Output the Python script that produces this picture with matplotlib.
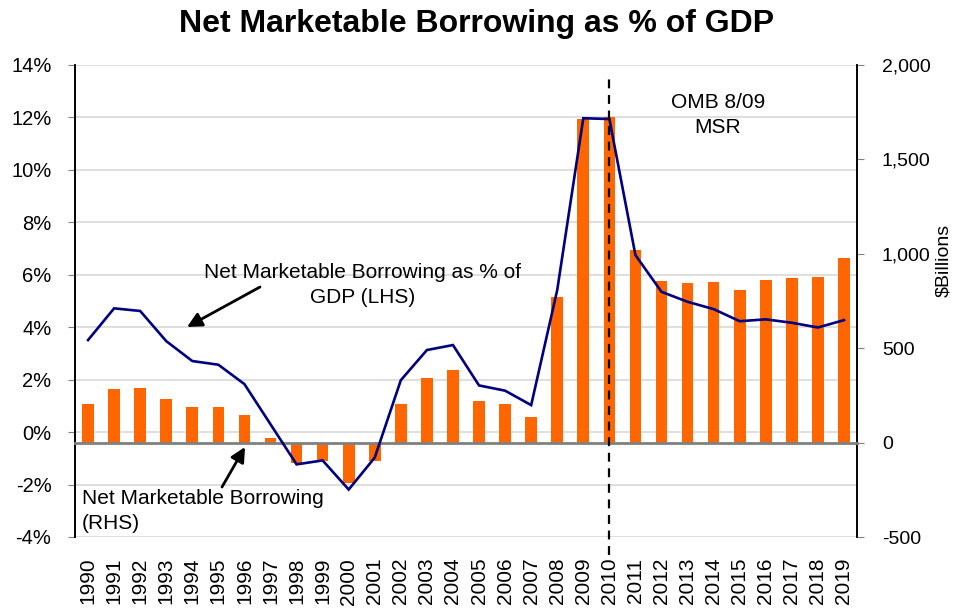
import matplotlib
matplotlib.use("Agg")
import matplotlib.pyplot as plt
import matplotlib.transforms as mtrans
from matplotlib.patches import FancyArrowPatch
from matplotlib.ticker import FuncFormatter, FixedLocator
import numpy as np

plt.rcParams["font.family"] = ["Liberation Sans", "DejaVu Sans"]

# Net marketable borrowing, $ billions (right axis)
years = list(range(1990, 2020))
borrowing_bn = [205, 282, 291, 231, 190, 190, 145, 23, -110, -97,
                -212, -97, 206, 340, 385, 219, 206, 137, 773, 1716,
                1726, 1020, 858, 844, 849, 807, 861, 874, 877, 978]
# Net marketable borrowing as % of GDP (left axis)
borrowing_pct_gdp = [3.51, 4.72, 4.62, 3.47, 2.71, 2.57, 1.83, 0.30, -1.23, -1.08,
                     -2.19, -0.97, 1.98, 3.13, 3.32, 1.78, 1.58, 1.03, 5.42, 11.97,
                     11.94, 6.75, 5.35, 4.97, 4.69, 4.23, 4.30, 4.17, 3.99, 4.27]
forecast_start = 2010

W, H = 954, 608
fig = plt.figure(figsize=(W / 100, H / 100), dpi=100)

def fx(px):
    return px / W

def fy(py):
    return 1 - py / H

ax = fig.add_axes([fx(75), fy(537), fx(857) - fx(75), fy(65) - fy(537)])
ax2 = ax.twinx()

x = np.arange(len(years))
ax.set_xlim(-0.5, len(years) - 0.5)
ax.set_ylim(-4, 14)
ax2.set_ylim(-500, 2000)

# left axis: percent scale with gridlines
ax.set_yticks(np.arange(-4, 15, 2))
ax.yaxis.set_major_formatter(FuncFormatter(lambda v, p: f"{v:.0f}%"))
ax.grid(axis="y", color="#D9D9D9", lw=1.2)
ax.set_axisbelow(True)
ax.tick_params(axis="y", direction="out", length=5, color="#808080",
               labelsize=14.5, pad=12)

# right axis: billions
ax2.set_yticks(np.arange(-500, 2001, 500))
ax2.yaxis.set_major_formatter(FuncFormatter(lambda v, p: f"{v:,.0f}"))
ax2.tick_params(axis="y", direction="out", length=5, color="#808080",
                labelsize=14, pad=13)

for a in (ax, ax2):
    a.spines["top"].set_visible(False)
    a.spines["left"].set_color("black")
    a.spines["right"].set_color("black")
    a.spines["left"].set_linewidth(1.2)
    a.spines["right"].set_linewidth(1.2)

# category axis: labels at centres, tick marks at boundaries on the zero line
ax.xaxis.set_major_locator(FixedLocator(x))
ax.set_xticklabels([str(y) for y in years], rotation=90)
ax.xaxis.set_minor_locator(FixedLocator(np.arange(-0.5, len(years), 1.0)))
ax.spines["bottom"].set_visible(False)
ax.tick_params(axis="x", which="major", length=0, labelsize=15, pad=15)
ax.tick_params(axis="x", which="minor", length=0)

ax2.spines["bottom"].set_position(("data", 0))
ax2.spines["bottom"].set_color("#808080")
ax2.spines["bottom"].set_linewidth(2)
ax2.tick_params(axis="x", which="major", length=0, labelbottom=False)
ax2.tick_params(axis="x", which="minor", direction="out", length=5,
                width=1.5, color="#808080", labelbottom=False)

# bars and line
ax2.bar(x, borrowing_bn, width=0.45, color="#FF6600", zorder=2)
ax2.plot(x, borrowing_pct_gdp, color="#000080", lw=1.9, zorder=3,
         transform=ax.transData, solid_joinstyle="miter")

# forecast divider
xi = years.index(forecast_start)
trans = mtrans.blended_transform_factory(ax2.transData, ax2.transAxes)
ax2.plot([xi, xi], [-0.038, 0.972], transform=trans, color="black", lw=1.6,
         ls=(0, (4, 3)), clip_on=False, zorder=4)

ax2.set_ylabel("$Billions", fontsize=14)
ax2.yaxis.set_label_coords((935 - 75) / (857 - 75), (537 - 260) / (537 - 65))

fig.text(0.5, fy(24), "Net Marketable Borrowing as % of GDP", ha="center",
         va="center", fontsize=23, fontweight="bold")

fig.text(fx(718), fy(115), "OMB 8/09\nMSR", ha="center", va="center",
         fontsize=15, linespacing=1.35)

fig.text(fx(363), fy(285), "Net Marketable Borrowing as % of\nGDP (LHS)",
         ha="center", va="center", fontsize=15, linespacing=1.35)
fig.text(fx(82), fy(511), "Net Marketable Borrowing\n(RHS)",
         ha="left", va="center", fontsize=15, linespacing=1.35)

arrow = dict(arrowstyle="-|>", lw=2, color="black", mutation_scale=22,
             shrinkA=0, shrinkB=0)
fig.add_artist(FancyArrowPatch(
    (fx(260), fy(287)), (fx(187), fy(327)), transform=fig.transFigure, **arrow))
fig.add_artist(FancyArrowPatch(
    (fx(222), fy(487)), (fx(245), fy(447)), transform=fig.transFigure, **arrow))

fig.savefig("out.png", dpi=100)
